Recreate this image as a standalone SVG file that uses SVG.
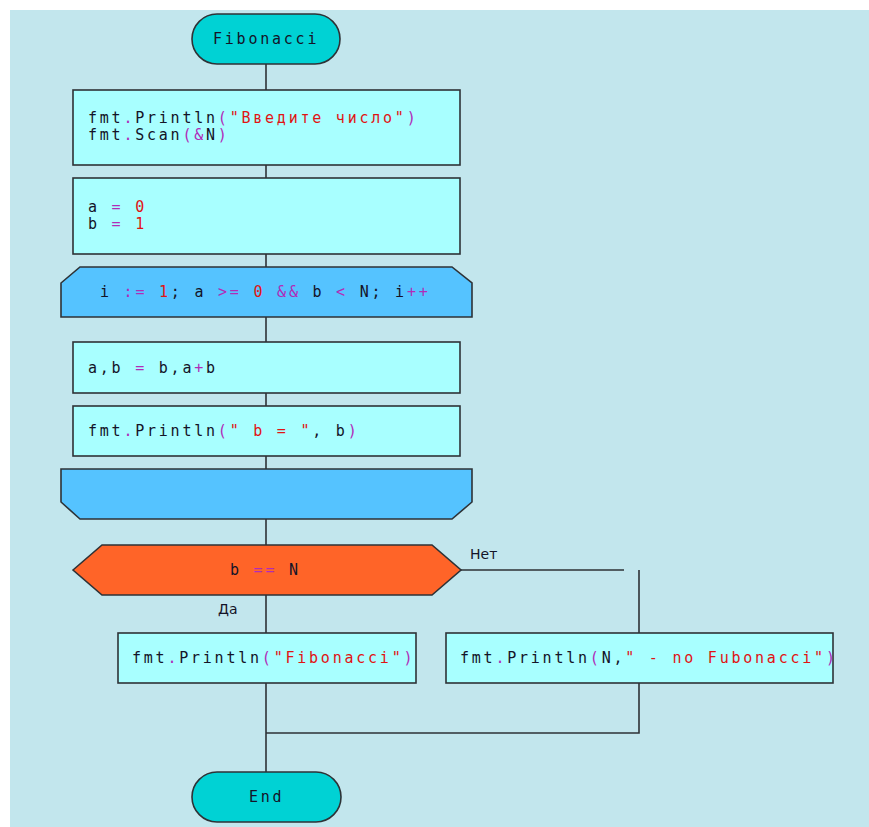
<svg xmlns="http://www.w3.org/2000/svg" width="869" height="827" viewBox="0 0 869 827">
<style>
.sh{stroke:#2e3236;stroke-width:1.6}
.term{fill:#00d2d4}
.proc{fill:#a8ffff}
.loop{fill:#55c3ff}
.dec{fill:#ff6428}
.c{font-family:"DejaVu Sans Mono","Liberation Mono",monospace;font-size:15px;letter-spacing:2.77px;fill:#141428;white-space:pre}
.lbl{font-family:"DejaVu Sans","Liberation Sans",sans-serif;font-size:14px;fill:#141428}
.o{fill:#b02cb8}
.s{fill:#e01414}
.ln{fill:none;stroke:#2e3236;stroke-width:1.6}
</style>
<rect x="10" y="10" width="859" height="817" fill="#c2e6ed"/>
<g id="connectors">
<path class="ln" d="M266 64V90M266 165V178M266 254V267M266 317V342M266 393V406M266 456V469M266 519V545M266 595V633M266 683V772"/>
<path class="ln" d="M461 570H624M639 570V633M639 683V733H266"/>
</g>
<g id="start">
<rect class="sh term" x="192" y="14" width="148" height="50" rx="25"/>
<text class="c" x="213" y="44">Fibonacci</text>
</g>
<g id="input">
<rect class="sh proc" x="73" y="90" width="387" height="75"/>
<text class="c" x="88" y="123">fmt<tspan class="o">.</tspan>Println<tspan class="o">(</tspan><tspan class="s">"Введите число"</tspan><tspan class="o">)</tspan></text>
<text class="c" x="88" y="140">fmt<tspan class="o">.</tspan>Scan<tspan class="o">(&amp;</tspan>N<tspan class="o">)</tspan></text>
</g>
<g id="init">
<rect class="sh proc" x="73" y="178" width="387" height="76"/>
<text class="c" x="88" y="212">a <tspan class="o">=</tspan> <tspan class="s">0</tspan></text>
<text class="c" x="88" y="229">b <tspan class="o">=</tspan> <tspan class="s">1</tspan></text>
</g>
<g id="loop-start">
<path class="sh loop" d="M80 267H452L472 283V317H61V283Z"/>
<text class="c" x="100" y="297">i <tspan class="o">:=</tspan> <tspan class="s">1</tspan>; a <tspan class="o">&gt;=</tspan> <tspan class="s">0</tspan> <tspan class="o">&amp;&amp;</tspan> b <tspan class="o">&lt;</tspan> N; i<tspan class="o">++</tspan></text>
</g>
<g id="swap">
<rect class="sh proc" x="73" y="342" width="387" height="51"/>
<text class="c" x="88" y="373">a,b <tspan class="o">=</tspan> b,a<tspan class="o">+</tspan>b</text>
</g>
<g id="print-b">
<rect class="sh proc" x="73" y="406" width="387" height="50"/>
<text class="c" x="88" y="436">fmt<tspan class="o">.</tspan>Println<tspan class="o">(</tspan><tspan class="s">" b = "</tspan>, b<tspan class="o">)</tspan></text>
</g>
<g id="loop-end">
<path class="sh loop" d="M61 469H472V502L452 519H80L61 502Z"/>
</g>
<g id="decision">
<path class="sh dec" d="M73 570L102 545H432L461 570L432 595H102Z"/>
<text class="c" x="230" y="575">b <tspan class="o">==</tspan> N</text>
<text class="lbl" x="470" y="559">Нет</text>
<text class="lbl" x="218" y="614">Да</text>
</g>
<g id="yes-print">
<rect class="sh proc" x="118" y="633" width="298" height="50"/>
<text class="c" x="132" y="663">fmt<tspan class="o">.</tspan>Println<tspan class="o">(</tspan><tspan class="s">"Fibonacci"</tspan><tspan class="o">)</tspan></text>
</g>
<g id="no-print">
<rect class="sh proc" x="446" y="633" width="387" height="50"/>
<text class="c" x="460" y="663">fmt<tspan class="o">.</tspan>Println<tspan class="o">(</tspan>N,<tspan class="s">" - no Fubonacci"</tspan><tspan class="o">)</tspan></text>
</g>
<g id="end">
<rect class="sh term" x="192" y="772" width="149" height="50" rx="25"/>
<text class="c" x="249" y="802">End</text>
</g>
</svg>
